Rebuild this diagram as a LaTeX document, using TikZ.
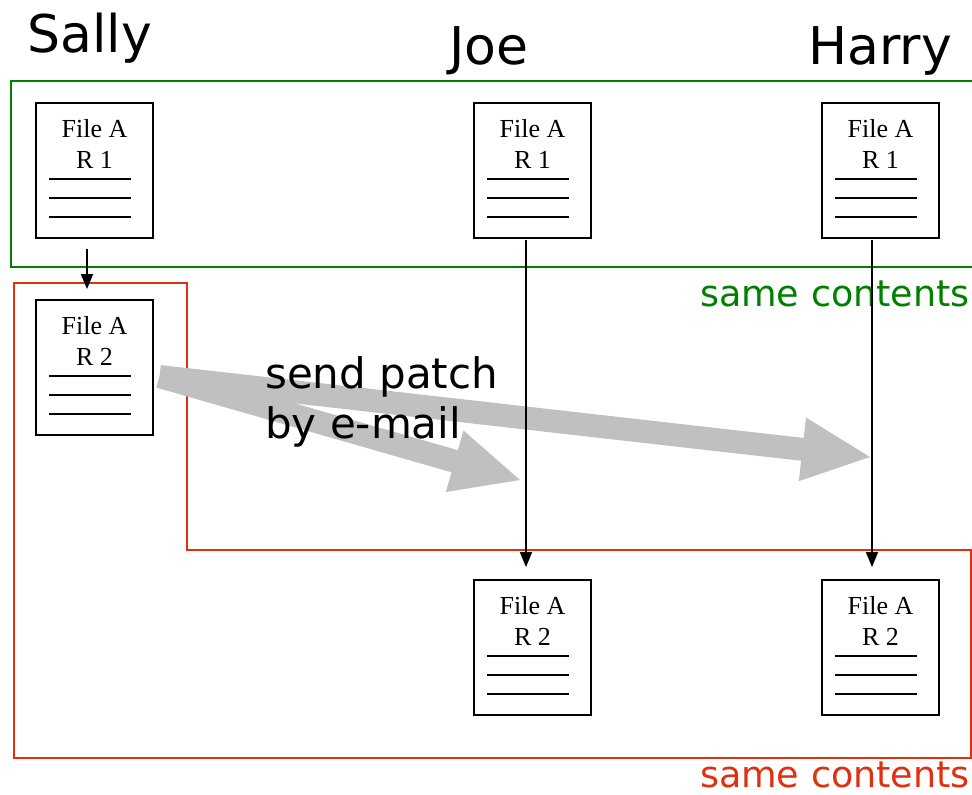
\documentclass[tikz,border=0pt]{standalone}
\usepackage{fontspec}
\setmainfont{Liberation Serif}
\newfontfamily\labelfont{DejaVu Sans}
\usetikzlibrary{calc,arrows.meta}

\definecolor{samegreen}{RGB}{0,128,0}
\definecolor{samered}{RGB}{224,48,16}
\definecolor{patchgray}{RGB}{192,192,192}

\tikzset{
  filebox/.style={draw=black, line width=1.8pt, minimum width=117pt,
    minimum height=135pt, inner sep=0pt, fill=white},
  filetxt/.style={font=\fontsize{26}{30}\selectfont, inner sep=0pt, anchor=base},
  textline/.style={line width=1.8pt},
  flow/.style={line width=1.5pt, -{Triangle[width=12pt,length=15pt]}},
  who/.style={font=\labelfont\fontsize{52}{60}\selectfont, inner sep=0pt, anchor=base west},
  patchtxt/.style={font=\labelfont\fontsize{42}{50}\selectfont, inner sep=0pt, anchor=base west},
  sametxt/.style={font=\labelfont\fontsize{36.5}{44}\selectfont, inner sep=0pt, anchor=base east},
  greenframe/.style={draw=samegreen, line width=1.6pt},
  redframe/.style={draw=samered, line width=1.6pt},
}

% a file sheet: name, centre x, centre y, revision
\newcommand\filesheet[4]{%
  \node[filebox] (#1) at (#2,#3) {};
  \node[filetxt] (#1-name) at ([yshift=-35pt]#1.north) {File A};
  \node[filetxt] (#1-rev) at ([yshift=-66pt]#1.north) {R #4};
  \foreach \dy in {77,96,115}
    \draw[textline] ([xshift=14pt,yshift=-\dy pt]#1.north west) -- ++(82,0);
}

% a broad grey arrow: base name, start, tip
\newcommand\fatarrow[3]{%
  \coordinate (#1-b) at ($(#3)!68pt!(#2)$);
  \fill[patchgray]
    ($(#2)!11.5pt!90:(#3)$) -- ($(#1-b)!11.5pt!90:(#3)$) --
    ($(#1-b)!32pt!90:(#3)$) -- (#3) -- ($(#1-b)!32pt!-90:(#3)$) --
    ($(#1-b)!11.5pt!-90:(#3)$) -- ($(#2)!11.5pt!-90:(#3)$) -- cycle;
}

\begin{document}
\begin{tikzpicture}[x=1pt, y=-1pt]
  \useasboundingbox (0,0) rectangle (972,795);

  % people
  \node[who] (sally) at (27,52) {Sally};
  \node[who] (joe) at (449,64) {Joe};
  \node[who] (harry) at (808,64) {Harry};

  % group outlines
  \draw[greenframe] (972,81) -- (11,81) -- (11,267) -- (972,267);
  \draw[redframe] (14,283) -- (187,283) -- (187,550) -- (971,550)
    -- (971,758) -- (14,758) -- cycle;
  \node[sametxt, text=samegreen] (same1) at (970,306) {same contents};
  \node[sametxt, text=samered] (same2) at (970,787) {same contents};

  % patch mail arrows
  \coordinate (src) at (159.5,376.5);
  \coordinate (tipjoe) at (520,480);
  \coordinate (tipharry) at (870,457);
  \fatarrow{tojoe}{src}{tipjoe}
  \fatarrow{toharry}{src}{tipharry}
  \node[patchtxt] (patch1) at (265,388) {send patch};
  \node[patchtxt] (patch2) at (265,438) {by e-mail};

  % file sheets
  \filesheet{s1}{94.5}{170.5}{1}
  \filesheet{j1}{532.5}{170.5}{1}
  \filesheet{h1}{880.5}{170.5}{1}
  \filesheet{s2}{94.5}{367.5}{2}
  \filesheet{j2}{532.5}{647.5}{2}
  \filesheet{h2}{880.5}{647.5}{2}

  % revision steps
  \draw[flow, shorten <=10pt, shorten >=10pt]
    ([xshift=-7.5pt]s1.south) -- ([xshift=-7.5pt]s2.north);
  \draw[flow, shorten <=1pt, shorten >=12pt]
    ([xshift=-6.5pt]j1.south) -- ([xshift=-6.5pt]j2.north);
  \draw[flow, shorten <=1pt, shorten >=12pt]
    ([xshift=-8.5pt]h1.south) -- ([xshift=-8.5pt]h2.north);
\end{tikzpicture}
\end{document}
